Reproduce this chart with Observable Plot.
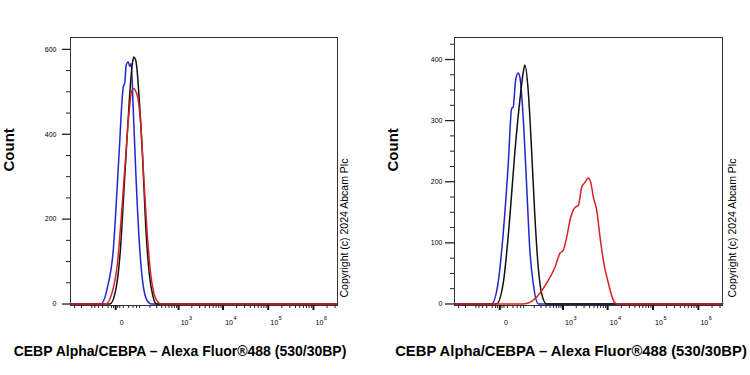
<!DOCTYPE html>
<html><head><meta charset="utf-8">
<script src="https://cdn.jsdelivr.net/npm/d3@7"></script>
<script src="https://cdn.jsdelivr.net/npm/@observablehq/plot@0.6"></script>
<style>
body{margin:0;background:#fff;}
#wrap{display:flex;width:750px;height:375px;background:#fff;}
svg{overflow:visible}
</style></head><body><div id="wrap"></div>
<script>
const xTitle = "CEBP Alpha/CEBPA – Alexa Fluor®488 (530/30BP)";
const yTitle = "Count";
const copyright = "Copyright (c) 2024 Abcam Plc";
const xDomain = [-380, 3.4e6];
const majorXTicks = [0, 1e3, 1e4, 1e5, 1e6];
const majorXBase = ["0", "10", "10", "10", "10"];
const majorXExp = ["", "3", "4", "5", "6"];
const minorXTicks = [-300, -200, -100, -80, -60, -40, -20, -10, -5, 5, 10, 20, 40, 60, 80,
  100, 200, 300, 400, 500, 600, 700, 800, 900,
  2000, 3000, 4000, 5000, 6000, 7000, 8000, 9000,
  20000, 30000, 40000, 50000, 60000, 70000, 80000, 90000,
  200000, 300000, 400000, 500000, 600000, 700000, 800000, 900000,
  2000000, 3000000];

// Left panel
const leftYMajor = [0, 200, 400, 600];
const leftYMinor = [50, 100, 150, 250, 300, 350, 450, 500, 550];
const leftBlueX = [-48, -22, -5, 3, 10, 15, 20, 25, 30, 38, 45, 51, 61, 76, 98, 124, 168, 220];
const leftBlueY = [0, 39, 133, 268, 386, 464, 511, 521, 563, 570, 560, 567, 464, 308, 150, 55, 8, 0];
const leftBlackX = [-14, 0, 12, 21, 35, 49, 58, 65, 75, 85, 94, 122, 154, 192, 238, 295];
const leftBlackY = [0, 32, 133, 251, 409, 527, 570, 582, 575, 546, 504, 362, 180, 72, 20, 0];
const leftRedX = [-28, -9, 4, 17, 28, 41, 53, 65, 78, 87, 109, 134, 172, 212, 256, 325, 390];
const leftRedY = [0, 25, 96, 237, 346, 449, 501, 508, 499, 489, 425, 303, 157, 67, 25, 4, 0];

// Right panel
const rightYMajor = [0, 100, 200, 300, 400];
const rightYMinor = [25, 50, 75, 125, 150, 175, 225, 250, 275, 325, 350, 375, 425];
const rightBlueX = [-22, -4, 8, 22, 35, 41, 52, 65, 75, 96, 122, 152, 188, 255];
const rightBlueY = [0, 34, 116, 224, 320, 322, 366, 378, 371, 306, 197, 88, 34, 0];
const rightBlackX = [-8, 8, 28, 49, 75, 96, 109, 136, 170, 209, 255, 311, 413];
const rightBlackY = [0, 34, 142, 251, 334, 378, 391, 350, 251, 142, 60, 17, 0];
const rightRedX = [96, 231, 413, 652, 853, 1016, 1216, 1446, 1876, 2227, 2655, 3146, 3727, 4219, 4822, 5737, 6797, 8040, 10390, 13400, 15930];
const rightRedY = [0, 11, 34, 60, 83, 88, 109, 137, 158, 161, 191, 199, 206, 199, 175, 153, 109, 71, 34, 6, 0];

const colors = {blue: "#2323d2", black: "#111111", red: "#d42222"};

function series(xs, ys) {
  const pts = xs.map((x, i) => ({x, y: ys[i]}));
  return [{x: xDomain[0], y: 0}, ...pts, {x: xDomain[1], y: 0}];
}

function panel(p) {
  const lines = p.series.map(s => Plot.line(series(s.x, s.y), {
    x: "x", y: "y", stroke: colors[s.color], strokeWidth: 1.5, curve: "monotone-x"
  }));
  return Plot.plot({
    width: 375, height: 375,
    marginLeft: p.marginLeft, marginRight: p.marginRight, marginTop: 37, marginBottom: 70,
    style: {fontFamily: "'Liberation Sans', Arial, sans-serif", fontSize: "7px", background: "white", overflow: "visible"},
    x: {type: "symlog", constant: 42.4, domain: xDomain},
    y: {domain: p.yDomain},
    marks: [
      Plot.frame({stroke: "#333", strokeWidth: 1}),
      Plot.axisY(p.yMinor, {tickSize: 4, tickFormat: () => "", label: null, stroke: "#222"}),
      Plot.axisY(p.yMajor, {tickSize: p.majorTick, tickPadding: p.tickPad, fontSize: 7, label: null, stroke: "#222", strokeWidth: 1.3}),
      Plot.axisX(minorXTicks, {tickSize: 3, tickFormat: () => "", label: null, stroke: "#222"}),
      Plot.axisX(majorXTicks, {tickSize: 5, strokeWidth: 2, tickFormat: () => "", label: null, stroke: "#111"}),
      Plot.text(majorXTicks, {x: d => d, text: (d, i) => majorXBase[i], frameAnchor: "bottom", dx: 6, dy: 19.5, fontSize: 7}),
      Plot.text(majorXTicks, {x: d => d, text: (d, i) => majorXExp[i], frameAnchor: "bottom", dx: 12, dy: 14, fontSize: 5.5}),
      ...lines,
      Plot.text([yTitle], {text: d => d, frameAnchor: "left", rotate: -90, dx: -61.5, fontSize: 15, fontWeight: "bold"}),
      Plot.text([xTitle], {text: d => d, frameAnchor: "bottom", dx: p.titleDx, dy: 50, fontSize: p.titleSize, fontWeight: "bold"}),
      Plot.text([copyright], {text: d => d, frameAnchor: "bottom-right", rotate: -90, textAnchor: "start", dx: p.copyDx, dy: -8, fontSize: 10.5})
    ]
  });
}

const wrap = document.getElementById("wrap");
wrap.appendChild(panel({
  marginLeft: 70, marginRight: 38, yDomain: [-3.5, 628], yMajor: leftYMajor, yMinor: leftYMinor,
  majorTick: 8, tickPad: 6, titleDx: -24, titleSize: 14, copyDx: 10,
  series: [
    {x: leftBlueX, y: leftBlueY, color: "blue"},
    {x: leftBlackX, y: leftBlackY, color: "black"},
    {x: leftRedX, y: leftRedY, color: "red"}
  ]
}));
wrap.appendChild(panel({
  marginLeft: 79, marginRight: 28, yDomain: [-2.5, 436], yMajor: rightYMajor, yMinor: rightYMinor,
  majorTick: 9, tickPad: 3, titleDx: -17.5, titleSize: 14.8, copyDx: 13,
  series: [
    {x: rightBlueX, y: rightBlueY, color: "blue"},
    {x: rightBlackX, y: rightBlackY, color: "black"},
    {x: rightRedX, y: rightRedY, color: "red"}
  ]
}));
</script></body></html>
